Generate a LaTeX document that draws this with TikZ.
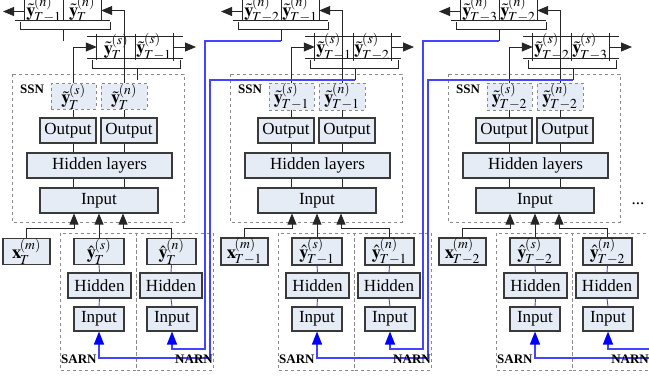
\documentclass[tikz,border=0pt]{standalone}
\usepackage{mathptmx}
\usepackage{fontspec}
\setmainfont{Liberation Serif}
\usetikzlibrary{arrows.meta,calc}

\definecolor{boxfill}{HTML}{E6ECF6}
\definecolor{boxdraw}{HTML}{3A3A3A}
\definecolor{dashgray}{HTML}{8A8A8A}
\definecolor{feedline}{HTML}{4444FF}
\definecolor{feedtip}{HTML}{0000FF}

\tikzset{
  txt/.style={font=\fontsize{17}{20}\selectfont},
  mth/.style={font=\fontsize{18.5}{22}\selectfont},
  lay/.style={txt, draw=boxdraw, line width=1.1pt, fill=boxfill, inner sep=0pt},
  est/.style={mth, draw=dashgray, dashed, line width=0.7pt, fill=boxfill, inner sep=0pt},
  cell/.style={mth, inner sep=0pt, minimum width=38pt, minimum height=20pt},
  lowcell/.style={cell, text height=15.5pt, text depth=4.5pt},
  grp/.style={draw=dashgray, dashed, line width=0.7pt},
  tag/.style={font=\fontsize{13}{15}\selectfont\bfseries, inner sep=0pt},
  wire/.style={line width=0.8pt, draw=black!85},
  bigtip/.style={-{Triangle[length=11pt,width=9pt]}},
  fb/.style={draw=feedline, line width=1.4pt},
  fbtip/.style={-{Triangle[length=13pt,width=10pt,color=feedtip]}},
  fbthin/.style={draw=feedline, line width=0.9pt},
}
% compact estimate symbol: bold letter with a mark, superscript and subscript
\newcommand{\estsym}[4]{$#1{\mathbf{#2}}^{\!(#3)}_{\!#4}$}

\begin{document}
\begin{tikzpicture}[x=1pt,y=-1pt]
\useasboundingbox (0,0) rectangle (649,378);

\foreach \k/\a/\b in {0/T/T{-}1, 1/T{-}1/T{-}2, 2/T{-}2/T{-}3}{
  \pgfmathsetmacro\dx{218*\k}
  \begin{scope}[xshift=\dx pt]
    % ---------- group frames
    \draw[grp] (12,74) rectangle (184,222);
    \draw[grp] (60,233) rectangle (136,370);
    \draw[grp] (136,233) rectangle (213,370);

    % ---------- SSN
    \node[est, minimum width=45pt, minimum height=23pt] (so-\k) at (73.5,96.5) {\estsym{\tilde}{y}{s}{\a}};
    \node[est, minimum width=46pt, minimum height=23pt] (no-\k) at (124,96.5) {\estsym{\tilde}{y}{n}{\a}};
    \node[lay, minimum width=56pt, minimum height=25pt] (oa-\k) at (68,130.5) {Output};
    \node[lay, minimum width=56pt, minimum height=25pt] (ob-\k) at (129,130.5) {Output};
    \node[lay, minimum width=145pt, minimum height=25pt] (hid-\k) at (99.5,165.5) {Hidden layers};
    \node[lay, minimum width=118pt, minimum height=25pt] (inp-\k) at (99,200.5) {Input};

    % ---------- network inputs
    \node[lay, mth, minimum width=47pt, minimum height=25pt] (xm-\k) at (26.5,251.5) {\estsym{}{x}{m}{\a}};
    \node[lay, mth, minimum width=50pt, minimum height=25pt] (ys-\k) at (99,251.5) {\estsym{\hat}{y}{s}{\a}};
    \node[lay, mth, minimum width=49pt, minimum height=25pt] (yn-\k) at (171.5,251.5) {\estsym{\hat}{y}{n}{\a}};
    \node[lay, minimum width=63pt, minimum height=25pt] (hs-\k) at (99.5,285.5) {Hidden};
    \node[lay, minimum width=62pt, minimum height=25pt] (hn-\k) at (171,285.5) {Hidden};
    \node[lay, minimum width=50pt, minimum height=24pt] (is-\k) at (99,319) {Input};
    \node[lay, minimum width=50pt, minimum height=24pt] (in-\k) at (172,319) {Input};

    % ---------- delay lines
    \node[lowcell] (nq1-\k) at (44,10.5) {\estsym{\tilde}{y}{n}{\b}};
    \node[lowcell] (nq2-\k) at (82,10.5) {\estsym{\tilde}{y}{n}{\a}};
    \draw[wire] (15,20.5) -- (110,20.5);
    \draw[wire] (nq1-\k.north west) -- (nq1-\k.south west)
                (nq1-\k.north east) -- (nq1-\k.south east)
                (nq2-\k.north east) -- (nq2-\k.south east);
    \node[cell, minimum height=22pt] (sq1-\k) at (116,47) {\estsym{\tilde}{y}{s}{\a}};
    \node[cell, minimum height=22pt] (sq2-\k) at (154,47) {\estsym{\tilde}{y}{s}{\b}};
    \draw[wire] (87,36) -- (183,36) (87,58) -- (183,58);
    \draw[wire] (sq1-\k.north west) -- (sq1-\k.south west)
                (sq1-\k.north east) -- (sq1-\k.south east)
                (sq2-\k.north east) -- (sq2-\k.south east);

    % brackets under the delay lines
    \draw[wire] (20,22) |- (110,29) -- (110,22);
    \coordinate (nt-\k) at (63,41);
    \draw[wire] (63,29) -- (nt-\k);
    \draw[wire] (92,60) |- (180,68) -- (180,60);
    \coordinate (st-\k) at (137,80);
    \draw[wire] (137,68) -- (st-\k);

    % free ends and bends
    \coordinate (nout-\k) at (3,11.5);
    \coordinate (sout-\k) at (196,47);
    \coordinate (ja-\k) at (74,228);
    \coordinate (jb-\k) at (123,228);
    \coordinate (nb-\k) at (205,349);
    \coordinate (sb-\k) at (210,358);
  \end{scope}

  % ---------- connectors inside the SSN
  \draw[wire] (inp-\k.north -| so-\k) -- (hid-\k.south -| so-\k)
              (hid-\k.north -| so-\k) -- (oa-\k.south -| so-\k)
              (oa-\k.north -| so-\k) -- (so-\k.south);
  \draw[wire] (inp-\k.north -| no-\k) -- (hid-\k.south -| no-\k)
              (hid-\k.north -| no-\k) -- (ob-\k.south -| no-\k)
              (ob-\k.north -| no-\k) -- (no-\k.south);
  \draw[wire,bigtip] (so-\k.north) |- (sq1-\k.west);
  \draw[wire,bigtip] (no-\k.north) |- (nq2-\k.east);
  \draw[wire,bigtip] (nq1-\k.west |- nout-\k) -- (nout-\k);
  \draw[wire,bigtip] (sq2-\k.east) -- (sout-\k);

  % ---------- inputs of the SSN
  \draw[wire,bigtip] (xm-\k.north) |- (ja-\k) -- (inp-\k.south -| ja-\k);
  \draw[wire,bigtip] (ys-\k.north) -- (inp-\k.south -| ys-\k);
  \draw[wire,bigtip] (yn-\k.north) |- (jb-\k) -- (inp-\k.south -| jb-\k);

  % ---------- SARN / NARN chains
  \draw[fbthin] (ys-\k.south) -- (hs-\k.north) (hs-\k.south) -- (is-\k.north);
  \draw[fbthin] (yn-\k.south) -- (hn-\k.north) (hn-\k.south) -- (in-\k.north);
}

% ---------- feedback of the delayed estimates
\draw[fb,fbtip] (nt-1) -| (nb-0) -| (in-0.south);
\draw[fb,fbtip] (st-1) -| (sb-0) -| (is-0.south);
\draw[fb,fbtip] (nt-2) -| (nb-1) -| (in-1.south);
\draw[fb,fbtip] (st-2) -| (sb-1) -| (is-1.south);
\coordinate (edgeN) at (649,349);
\coordinate (edgeS) at (649,358);
\draw[fb,fbtip] (edgeN) -| (in-2.south);
\draw[fb,fbtip] (edgeS) -| (is-2.south);

% ---------- labels
\foreach \k in {0,1,2}{
  \begin{scope}[xshift=218*\k pt]
    \node[tag, anchor=west] (lssn-\k) at (20,89) {SSN};
    \node[tag, anchor=west] (lsarn-\k) at (61,359) {SARN};
    \node[tag, anchor=east] (lnarn-\k) at (213,359) {NARN};
  \end{scope}
}
\node[txt] (more) at (638,204) {...};
\end{tikzpicture}
\end{document}
